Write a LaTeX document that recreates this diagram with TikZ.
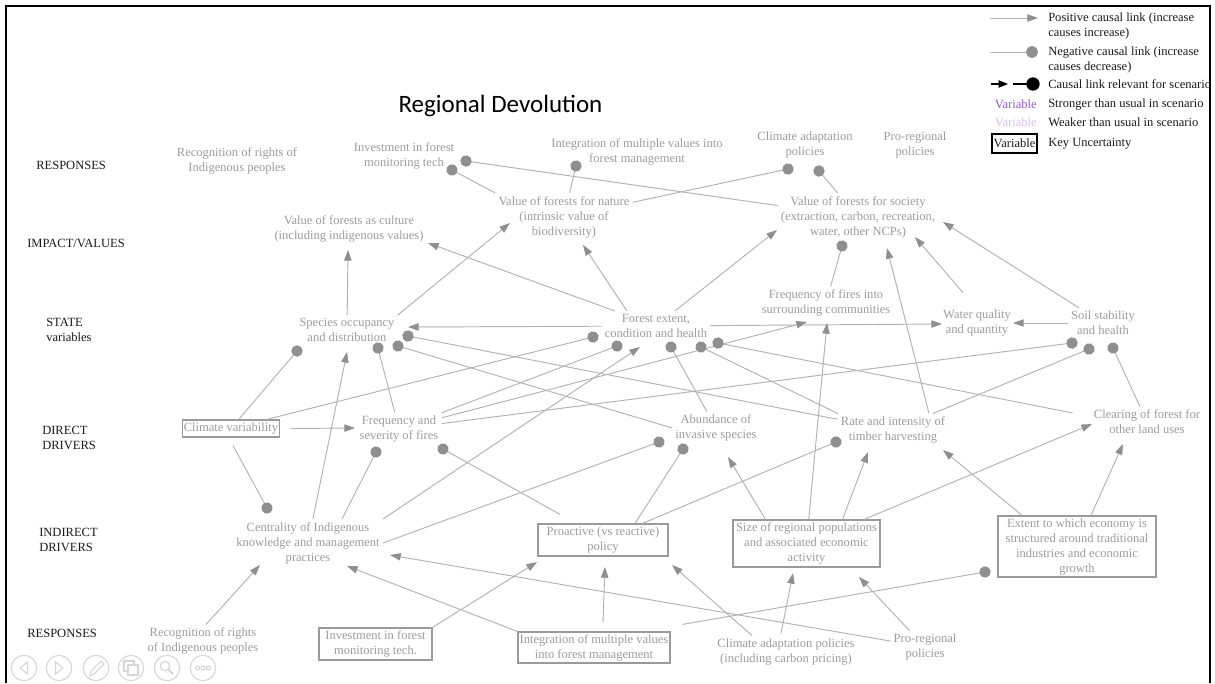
\documentclass[tikz,border=0pt]{standalone}
\usepackage{fontspec}
\setmainfont{Liberation Serif}
\newfontfamily\titlefont{Carlito}
\usetikzlibrary{arrows.meta}

\definecolor{linegray}{HTML}{B2B2B2}
\definecolor{tipgray}{HTML}{8F8F8F}
\definecolor{txtgray}{HTML}{9C9C9C}
\definecolor{boxgray}{HTML}{9A9A9A}
\definecolor{inkblack}{HTML}{1A1A1A}
\definecolor{strongpurple}{HTML}{A050D8}
\definecolor{weakpurple}{HTML}{DCC0F0}
\definecolor{icongray}{HTML}{D6D6D6}

\newcommand{\nodefont}{\fontsize{9.4pt}{11.25pt}\selectfont}

\tikzset{
  var/.style={text=txtgray, align=center, font=\nodefont, inner sep=2.25pt},
  varbox/.style={var, draw=boxgray, line width=0.9pt, inner sep=0.8pt},
  rowlabel/.style={text=inkblack, align=left, font=\nodefont, inner sep=0pt, anchor=west},
  legtext/.style={text=inkblack, align=left, font=\nodefont, inner sep=0pt, anchor=west},
  poslink/.style={draw=linegray, line width=0.7pt, -{Triangle[length=8pt,width=5.5pt,color=tipgray]}},
  neglink/.style={draw=linegray, line width=0.7pt, -{Circle[length=8.5pt,color=tipgray]}, shorten >=-4.25pt},
  icon/.style={draw=icongray, line width=0.8pt}
}

\begin{document}
\begin{tikzpicture}[x=0.75pt, y=-0.75pt]
\useasboundingbox (0,0) rectangle (1215,683);
\fill[white] (0,0) rectangle (1215,683);

% ---------- title ----------
\node[anchor=base, inner sep=0pt, text=black, font=\titlefont\fontsize{18.75pt}{22pt}\selectfont] (title) at (500.5,112) {Regional Devolution};

% ---------- row labels ----------
\node[rowlabel] (lblRespTop) at (36,165) {RESPONSES};
\node[rowlabel] (lblImpact) at (27,243) {IMPACT/VALUES};
\node[rowlabel] (lblState) at (46,330) {STATE\\variables};
\node[rowlabel] (lblDirect) at (42,438) {DIRECT\\DRIVERS};
\node[rowlabel] (lblIndirect) at (39,540) {INDIRECT\\DRIVERS};
\node[rowlabel] (lblRespBot) at (27,633) {RESPONSES};

% ---------- variables ----------
\node[var] (recTop) at (237,161) {Recognition of rights of\\Indigenous peoples};
\node[var] (invTop) at (404,156) {Investment in forest\\monitoring tech};
\node[var] (intTop) at (637,152) {Integration of multiple values into\\forest management};
\node[var] (climTop) at (805,145) {Climate adaptation\\policies};
\node[var] (proTop) at (915,145) {Pro-regional\\policies};

\node[var] (culture) at (349,229) {Value of forests as culture\\(including indigenous values)};
\node[var] (nature) at (564,217) {Value of forests for nature\\(intrinsic value of\\biodiversity)};
\node[var] (society) at (858,217) {Value of forests for society\\(extraction, carbon, recreation,\\water, other NCPs)};

\node[var] (species) at (347,330) {Species occupancy\\and distribution};
\node[var] (forest) at (656,326) {Forest extent,\\condition and health};
\node[var] (fireComm) at (826,303) {Frequency of fires into\\surrounding communities};
\node[var] (water) at (977,323) {Water quality\\and quantity};
\node[var] (soil) at (1103,323) {Soil stability\\and health};

\node[varbox, minimum width=72pt, minimum height=12.75pt] (climVar) at (231,428.5) {Climate variability};
\node[var] (fireSev) at (399,429) {Frequency and\\severity of fires};
\node[var] (invasive) at (716,428) {Abundance of\\invasive species};
\node[var] (rate) at (893,430) {Rate and intensity of\\timber harvesting};
\node[var] (clearing) at (1147,422) {Clearing of forest for\\other land uses};

\node[var] (centrality) at (308,543) {Centrality of Indigenous\\knowledge and management\\practices};
\node[varbox, minimum width=97.5pt, minimum height=24pt] (proactive) at (603,540) {Proactive (vs reactive)\\policy};
\node[varbox, minimum width=110.25pt, minimum height=35.25pt] (size) at (806.5,543.5) {Size of regional populations\\and associated economic\\activity};
\node[varbox, minimum width=118.5pt, minimum height=45.75pt] (extent) at (1077,546.5) {Extent to which economy is\\structured around traditional\\industries and economic\\growth};

\node[var] (recBot) at (203,641) {Recognition of rights\\of Indigenous peoples};
\node[varbox, minimum width=84.75pt, minimum height=24pt] (invBot) at (375.5,644) {Investment in forest\\monitoring tech.};
\node[varbox, minimum width=114pt, minimum height=23.25pt] (intBot) at (594,647.5) {Integration of multiple values\\into forest management};
\node[var] (climBot) at (786,652) {Climate adaptation policies\\(including carbon pricing)};
\node[var] (proBot) at (925,647) {Pro-regional\\policies};

% ---------- arrow tips (a) and dots (d) beside each variable ----------
\coordinate (invTop-d1) at (452,170);
\coordinate (invTop-d2) at (466,161);
\coordinate (intTop-d1) at (576,166);
\coordinate (climTop-d1) at (788,169);
\coordinate (climTop-d2) at (819,171);
\coordinate (culture-a1) at (348,250);
\coordinate (culture-a2) at (428,243);
\coordinate (nature-a1) at (510,223);
\coordinate (nature-a2) at (583,245);
\coordinate (society-a1) at (777,230);
\coordinate (society-a2) at (887,248);
\coordinate (society-a3) at (915,237);
\coordinate (society-a4) at (943,222);
\coordinate (society-d1) at (842,246);
\coordinate (species-a1) at (408,327);
\coordinate (species-a2) at (347,352);
\coordinate (species-d1) at (297,351);
\coordinate (species-d2) at (378,348);
\coordinate (species-d3) at (398,346);
\coordinate (species-d4) at (408,336);
\coordinate (forest-a1) at (640,347);
\coordinate (forest-d1) at (593,337);
\coordinate (forest-d2) at (617,346);
\coordinate (forest-d3) at (671,347);
\coordinate (forest-d4) at (701,347);
\coordinate (forest-d5) at (718,343);
\coordinate (fireComm-a1) at (807,322);
\coordinate (fireComm-a2) at (827,323);
\coordinate (water-a1) at (942,324);
\coordinate (water-a2) at (1013,323);
\coordinate (soil-d1) at (1072,343);
\coordinate (soil-d2) at (1089,349);
\coordinate (soil-d3) at (1113,348);
\coordinate (fireSev-a1) at (355,428);
\coordinate (fireSev-d1) at (376,452);
\coordinate (fireSev-d2) at (443,449);
\coordinate (invasive-a1) at (728,457);
\coordinate (invasive-d1) at (659,442);
\coordinate (invasive-d2) at (683,449);
\coordinate (rate-a1) at (868,452);
\coordinate (rate-a2) at (943,450);
\coordinate (rate-d1) at (836,442);
\coordinate (clearing-a1) at (1092,424);
\coordinate (clearing-a2) at (1123,444);
\coordinate (centrality-a1) at (260,565);
\coordinate (centrality-a2) at (390,555);
\coordinate (centrality-a3) at (347,566);
\coordinate (centrality-d1) at (267,508);
\coordinate (proactive-a1) at (537,562);
\coordinate (proactive-a2) at (605,567);
\coordinate (proactive-a3) at (672,565);
\coordinate (size-a1) at (793,573);
\coordinate (size-a2) at (859,577);
\coordinate (extent-d1) at (985,572);

% ---------- causal links ----------
% values -> responses
\draw[neglink] (nature.north west) -- (invTop-d1);
\draw[neglink] (society) -- (invTop-d2);
\draw[neglink] (nature) -- (intTop-d1);
\draw[neglink] (nature) -- (climTop-d1);
\draw[neglink] (society) -- (climTop-d2);
% state -> values
\draw[poslink] (species) -- (culture-a1);
\draw[poslink] (species.north east) -- (nature-a1);
\draw[poslink] (forest) -- (culture-a2);
\draw[poslink] ([shift={(-29,0)}]forest.north) -- (nature-a2);
\draw[poslink] (forest) -- (society-a1);
\draw[neglink] (fireComm) -- (society-d1);
\draw[poslink] ([shift={(36,0)}]rate.north) -- (society-a2);
\draw[poslink] ([shift={(-14,-14)}]water.north) -- (society-a3);
\draw[poslink] (soil) -- (society-a4);
% within state
\draw[poslink] (forest) -- (species-a1);
\draw[poslink] (forest) -- (water-a1);
\draw[poslink] (soil) -- (water-a2);
% direct drivers -> state
\draw[poslink] (fireSev) -- (fireComm-a1);
\draw[neglink] (climVar) -- (forest-d1);
\draw[neglink] (fireSev) -- (forest-d2);
\draw[neglink] (invasive) -- (forest-d3);
\draw[neglink] (rate.north west) -- (forest-d4);
\draw[neglink] ([shift={(-18,-9)}]clearing.west) -- (forest-d5);
\draw[neglink] (rate) -- (species-d4);
\draw[neglink] (invasive.west) -- (species-d3);
\draw[neglink] (fireSev) -- (species-d2);
\draw[neglink] (climVar) -- (species-d1);
\draw[neglink] (clearing) -- (soil-d3);
\draw[neglink] (rate) -- (soil-d2);
\draw[neglink] (fireSev) -- (soil-d1);
\draw[poslink] ([shift={(11,0)}]climVar.east) -- (fireSev-a1);
\draw[neglink] ([shift={(2,8)}]climVar.south) -- (centrality-d1);
% indirect drivers -> direct drivers and state
\draw[poslink] (centrality) -- (species-a2);
\draw[poslink] (centrality.north east) -- (forest-a1);
\draw[neglink] ([shift={(34,0)}]centrality.north) -- (fireSev-d1);
\draw[neglink] (centrality.east) -- (invasive-d1);
\draw[neglink] ([shift={(-43,-9)}]proactive.north) -- (fireSev-d2);
\draw[neglink] ([shift={(32,0)}]proactive.north) -- (invasive-d2);
\draw[neglink] (proactive) -- (rate-d1);
\draw[poslink] ([shift={(-41,0)}]size.north) -- (invasive-a1);
\draw[poslink] ([shift={(36,0)}]size.north) -- (rate-a1);
\draw[poslink] (size) -- (clearing-a1);
\draw[poslink] (size) -- (fireComm-a2);
\draw[poslink] ([shift={(-55,0)}]extent.north) -- (rate-a2);
\draw[poslink] (extent) -- (clearing-a2);
% responses -> indirect drivers
\draw[poslink] ([shift={(3,0)}]recBot.north) -- (centrality-a1);
\draw[poslink] (invBot.north east) -- (proactive-a1);
\draw[poslink] ([shift={(9,-9)}]intBot.north) -- (proactive-a2);
\draw[poslink] (intBot.north west) -- (centrality-a3);
\draw[neglink] ([shift={(12,-7)}]intBot.north east) -- (extent-d1);
\draw[poslink] ([shift={(-34,0)}]climBot.north) -- (proactive-a3);
\draw[poslink] ([shift={(-5,-2)}]climBot.north) -- (size-a1);
\draw[poslink] (proBot) -- (size-a2);
\draw[poslink] (proBot) -- (centrality-a2);

% ---------- legend ----------
\coordinate (lgPos1) at (990,18);
\coordinate (lgPos2) at (1038,18);
\draw[poslink] (lgPos1) -- (lgPos2);
\coordinate (lgNeg1) at (990,52);
\coordinate (lgNeg2) at (1032,52);
\draw[neglink, -{Circle[length=9pt,color=tipgray]}, shorten >=-4.5pt] (lgNeg1) -- (lgNeg2);
\coordinate (lgBlk1) at (991,84);
\coordinate (lgBlk2) at (1008,84);
\coordinate (lgBlk3) at (1013,84);
\coordinate (lgBlk4) at (1033,84);
\draw[black, line width=0.9pt, -{Triangle[length=7pt,width=5.5pt]}] (lgBlk1) -- (lgBlk2);
\draw[black, line width=0.9pt, -{Circle[length=10pt]}, shorten >=-5pt] (lgBlk3) -- (lgBlk4);

\node[legtext] (lgPosTxt) at (1048,25.5) {Positive causal link (increase\\causes increase)};
\node[legtext] (lgNegTxt) at (1048,59.5) {Negative causal link (increase\\causes decrease)};
\begin{scope}
  \clip (0,0) rectangle (1209,683);
  \node[legtext] (lgBlkTxt) at (1048,84) {Causal link relevant for scenario};
\end{scope}
\node[legtext, anchor=east, text=strongpurple] (lgStrong) at (1037,104) {Variable};
\node[legtext] (lgStrongTxt) at (1048,104) {Stronger than usual in scenario};
\node[legtext, anchor=east, text=weakpurple] (lgWeak) at (1037,122) {Variable};
\node[legtext] (lgWeakTxt) at (1048,122) {Weaker than usual in scenario};
\node[legtext, anchor=center, draw=black, line width=0.8pt, inner sep=0.6pt,
      minimum width=33.75pt, minimum height=14.25pt, align=center] (lgKey) at (1014.5,143.5) {Variable};
\node[legtext] (lgKeyTxt) at (1048,144) {Key Uncertainty};

% ---------- slide-show control buttons ----------
\draw[icon] (24,668) circle (9.5pt);
\draw[icon] (27.5,662) -- (20,668) -- (27.5,674) -- cycle;
\draw[icon] (59,668) circle (9.5pt);
\draw[icon] (55.5,662) -- (63,668) -- (55.5,674) -- cycle;
\draw[icon] (96,668) circle (9.5pt);
\draw[icon] (90,676) -- (91,671) -- (101,661) -- (104,664) -- (94,674) -- cycle;
\draw[icon] (131,668) circle (9.5pt);
\draw[icon] (124,661) rectangle (134,671);
\draw[icon, fill=white] (128,665) rectangle (138,675);
\draw[icon] (167,668) circle (9.5pt);
\draw[icon] (165,666) circle (3.5pt);
\draw[icon, line width=1.4pt] (168.5,669.5) -- (173,674);
\draw[icon] (203,668) circle (9.5pt);
\draw[icon] (197.5,668) circle (1.5pt);
\draw[icon] (203,668) circle (1.5pt);
\draw[icon] (208.5,668) circle (1.5pt);

% ---------- frame ----------
\draw[black, line width=1.6pt] (6,683) -- (6,6) -- (1210,6) -- (1210,683);
\end{tikzpicture}
\end{document}
